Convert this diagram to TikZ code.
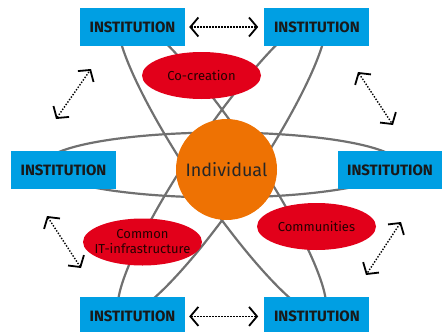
\documentclass[tikz,border=0pt]{standalone}
\usepackage{fontspec}
\setmainfont{Fira Sans}
\usetikzlibrary{arrows.meta, positioning, shapes.geometric}

\definecolor{instblue}{HTML}{009FE3}
\definecolor{indorange}{HTML}{EE7203}
\definecolor{topicred}{HTML}{E2001A}
\definecolor{orbitgrey}{HTML}{707070}

\begin{document}
\begin{tikzpicture}[
  x=1pt, y=-1pt,
  institution/.style={fill=instblue, minimum width=105pt, minimum height=38pt, inner sep=0pt, font=\bfseries\fontsize{15}{15}\selectfont, text=black!90},
  individual/.style={circle, fill=indorange, minimum size=101pt, inner sep=0pt, font=\fontsize{18}{18}\selectfont, text=black!85},
  topic/.style={ellipse, fill=topicred, minimum width=119pt, minimum height=47pt, inner xsep=-25pt, inner ysep=-6pt, align=center, font=\fontsize{13}{15}\selectfont, text=black!85!red},
  orbit/.style={draw=orbitgrey, line width=2.2pt},
  arrow/.style={{Straight Barb[length=8pt,width=19pt,line width=1.8pt]}-{Straight Barb[length=8pt,width=19pt,line width=1.8pt]}, line width=1.4pt, dash pattern=on 1.4pt off 1.6pt}
]
\useasboundingbox (0,0) rectangle (442,332);

% Orbits round the individual
\draw[orbit] (222,165) ellipse [x radius=178pt, y radius=32.5pt];
\draw[orbit, rotate around={-56:(222,165)}] (222,165) ellipse [x radius=180pt, y radius=32pt];
\draw[orbit, rotate around={56:(222,165)}] (222,165) ellipse [x radius=180pt, y radius=32pt];

% Institutions
\node[institution] (inst_tl) at (132.5,27) {INSTITUTION};
\node[institution, right=79pt of inst_tl] (inst_tr) {INSTITUTION};
\node[institution] (inst_l) at (63.5,170) {INSTITUTION};
\node[institution] (inst_r) at (390,170) {INSTITUTION};
\node[institution, below=251pt of inst_tl] (inst_bl) {INSTITUTION};
\node[institution, right=79pt of inst_bl] (inst_br) {INSTITUTION};

% Individual
\node[individual] (individual) at (226.5,169.5) {Individual};

% Topics on the orbits
\node[topic] (cocreation) at (201.5,75.5) {Co-creation};
\node[topic] (infrastructure) at (142.5,242) {Common\\IT-infrastructure};
\node[topic] (communities) at (316.5,226.5) {Communities};

% Ends of the side arrows
\coordinate (tl_a) at (56,119);
\coordinate (tl_b) at (91,69);
\coordinate (tr_a) at (358,72);
\coordinate (tr_b) at (393,125);
\coordinate (bl_a) at (47,216);
\coordinate (bl_b) at (81,268);
\coordinate (br_a) at (401,222);
\coordinate (br_b) at (366,275);

% Arrows
\draw[arrow, shorten <=4pt, shorten >=6pt] (inst_tl) -- (inst_tr);
\draw[arrow, shorten <=4pt, shorten >=6pt] (inst_bl) -- (inst_br);
\draw[arrow] (tl_a) -- (tl_b);
\draw[arrow] (tr_a) -- (tr_b);
\draw[arrow] (bl_a) -- (bl_b);
\draw[arrow] (br_a) -- (br_b);

\end{tikzpicture}
\end{document}
